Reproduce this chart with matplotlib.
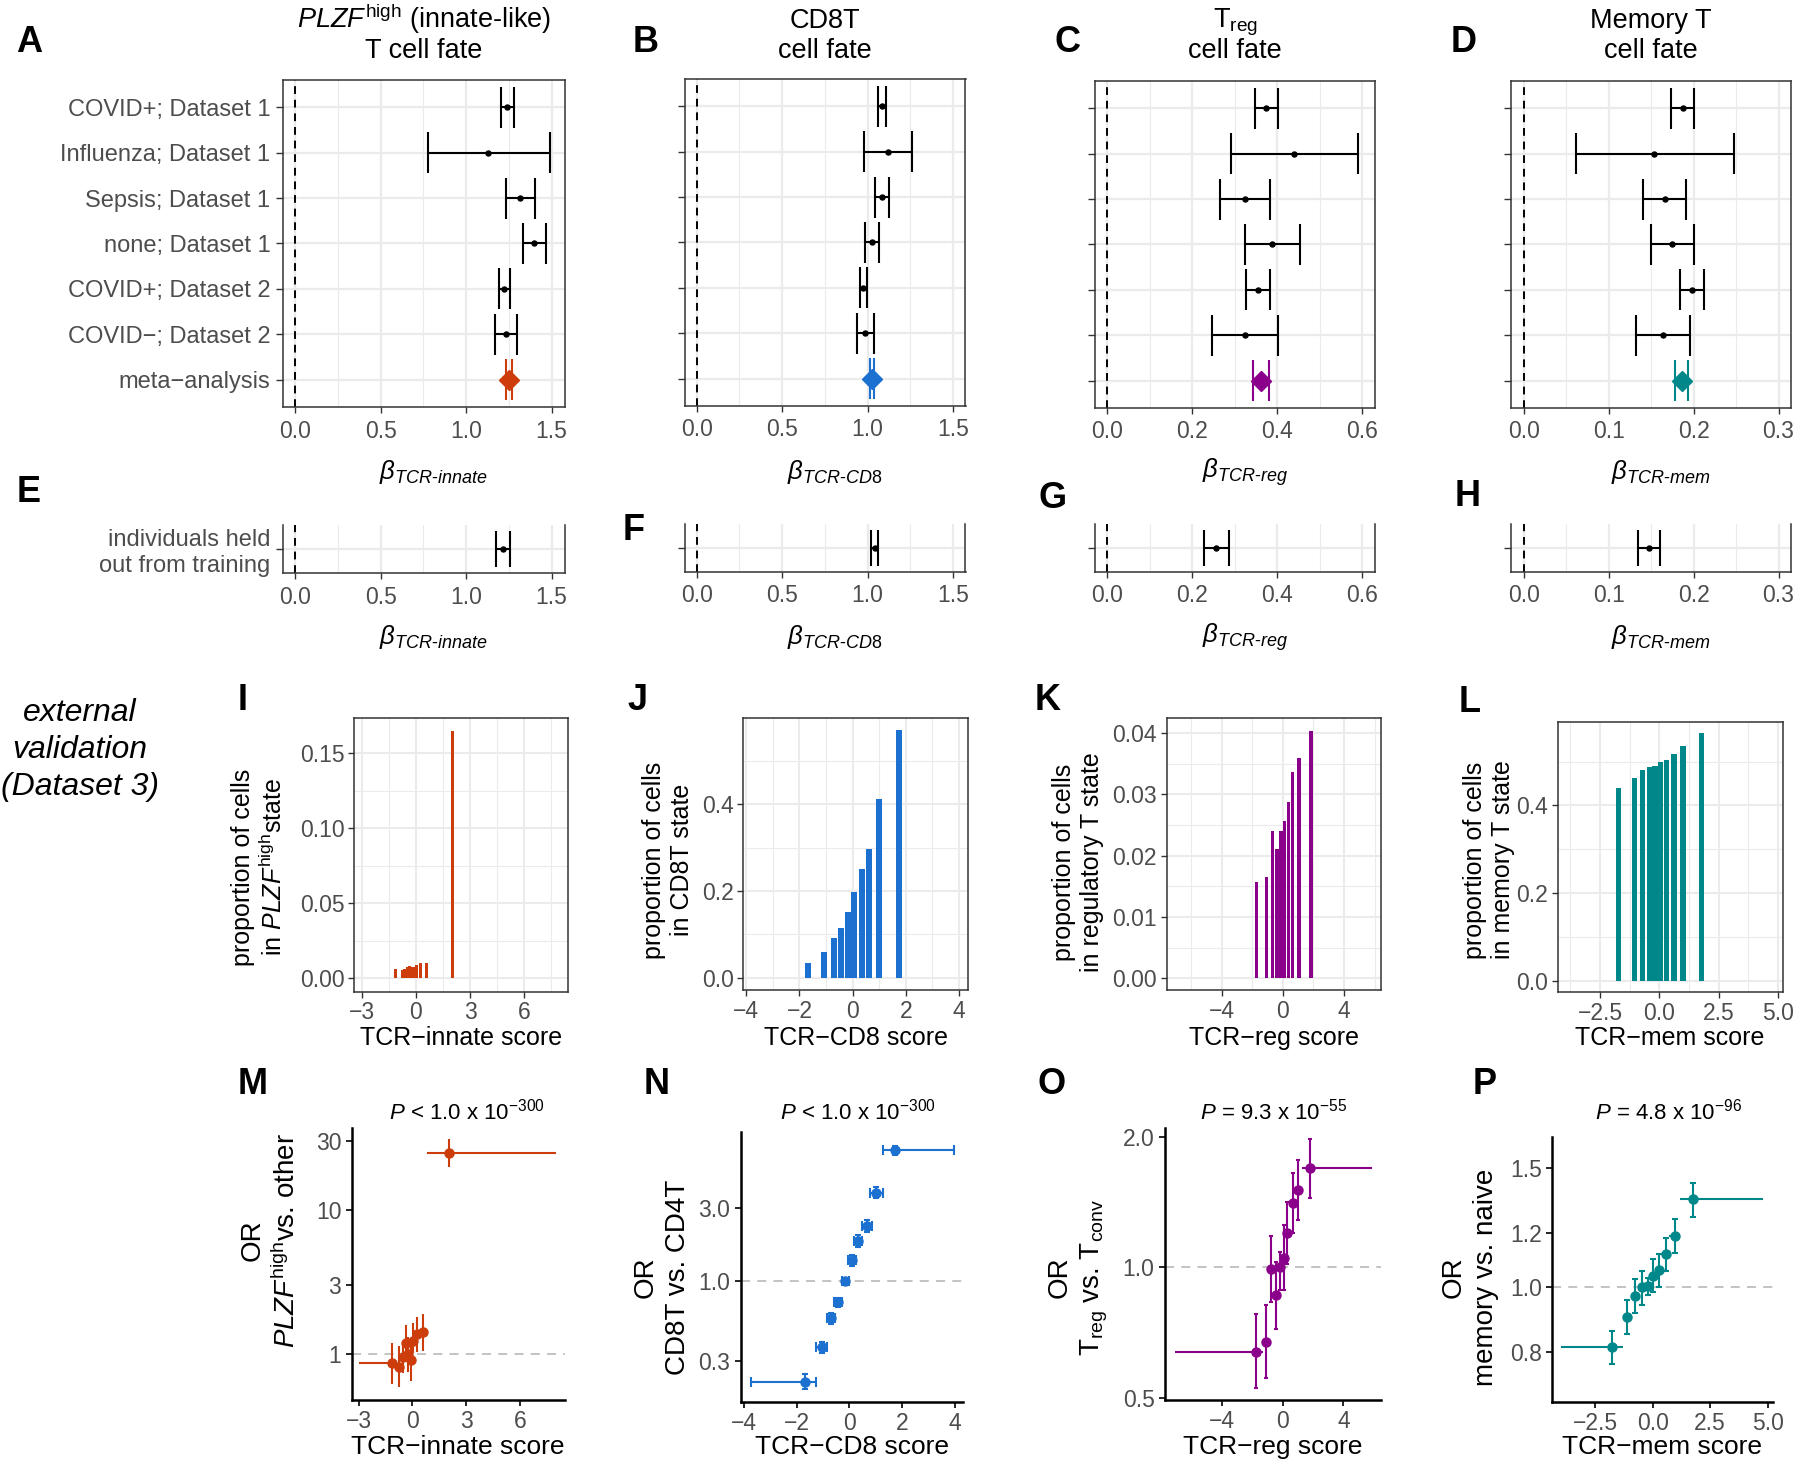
import numpy as np
import matplotlib
matplotlib.use('Agg')
import matplotlib.pyplot as plt
from matplotlib.ticker import FixedLocator, NullLocator, FixedFormatter

plt.rcParams['font.family'] = ['Liberation Sans', 'DejaVu Sans']
plt.rcParams['mathtext.fontset'] = 'custom'
plt.rcParams['mathtext.rm'] = 'Liberation Sans'
plt.rcParams['mathtext.it'] = 'Liberation Sans:italic'
plt.rcParams['mathtext.bf'] = 'Liberation Sans:bold'

# ---------------- data ----------------
study_labels = ['COVID+; Dataset 1', 'Influenza; Dataset 1', 'Sepsis; Dataset 1',
                'none; Dataset 1', 'COVID+; Dataset 2', 'COVID\u2212; Dataset 2',
                'meta\u2212analysis']
heldout_label = ['individuals held\nout from training']

innate_est = [1.242, 1.130, 1.317, 1.400, 1.224, 1.236]
innate_lo = [1.202, 0.775, 1.236, 1.332, 1.193, 1.170]
innate_hi = [1.281, 1.489, 1.406, 1.467, 1.254, 1.298]
innate_meta = [1.249, 1.231, 1.269]

cd8_est = [1.085, 1.119, 1.087, 1.025, 0.975, 0.987]
cd8_lo = [1.063, 0.980, 1.043, 0.984, 0.955, 0.940]
cd8_hi = [1.108, 1.260, 1.128, 1.067, 0.995, 1.036]
cd8_meta = [1.025, 1.013, 1.038]

reg_est = [0.374, 0.440, 0.324, 0.388, 0.355, 0.324]
reg_lo = [0.347, 0.291, 0.266, 0.325, 0.327, 0.246]
reg_hi = [0.402, 0.590, 0.384, 0.453, 0.384, 0.402]
reg_meta = [0.362, 0.344, 0.380]

mem_est = [0.187, 0.154, 0.166, 0.175, 0.198, 0.164]
mem_lo = [0.173, 0.062, 0.141, 0.150, 0.184, 0.132]
mem_hi = [0.200, 0.247, 0.191, 0.201, 0.212, 0.196]
mem_meta = [0.186, 0.178, 0.194]

heldout_innate = [1.217, 1.177, 1.258]
heldout_cd8 = [1.044, 1.018, 1.064]
heldout_reg = [0.257, 0.227, 0.287]
heldout_mem = [0.147, 0.135, 0.160]

innate_bin_x = [-1.13, -0.76, -0.63, -0.50, -0.37, -0.24, -0.13, 0.04, 0.26, 0.59, 2.04]
innate_bin_prop = [0.0063, 0.0058, 0.0065, 0.0073, 0.0085, 0.0078, 0.0073, 0.0088, 0.0100, 0.0104, 0.165]
cd8_bin_x = [-1.69, -1.07, -0.70, -0.44, -0.16, 0.06, 0.34, 0.63, 1.00, 1.74]
cd8_bin_prop = [0.035, 0.060, 0.091, 0.114, 0.151, 0.198, 0.250, 0.297, 0.412, 0.570]
reg_bin_x = [-1.70, -1.05, -0.68, -0.39, -0.13, 0.11, 0.37, 0.65, 1.05, 1.83]
reg_bin_prop = [0.0157, 0.0165, 0.0241, 0.0211, 0.0241, 0.0256, 0.0287, 0.0337, 0.0360, 0.0404]
mem_bin_x = [-1.71, -1.04, -0.72, -0.43, -0.18, 0.06, 0.32, 0.62, 1.00, 1.79]
mem_bin_prop = [0.439, 0.462, 0.482, 0.487, 0.490, 0.499, 0.503, 0.517, 0.535, 0.566]

innate_or_x = [-1.15, -0.74, -0.54, -0.37, -0.24, -0.07, 0.06, 0.28, 0.61, 2.07]
innate_or = [0.862, 0.817, 0.948, 1.197, 1.000, 0.909, 1.230, 1.376, 1.413, 24.7]
innate_or_lo = [0.619, 0.588, 0.735, 0.909, 0.754, 0.653, 1.010, 1.040, 1.050, 19.7]
innate_or_hi = [1.186, 1.137, 1.137, 1.590, 1.320, 1.186, 1.630, 1.810, 1.890, 30.8]
innate_x_lo = [-2.96, -0.87, -0.62, -0.45, -0.31, -0.15, -0.02, 0.18, 0.45, 0.80]
innate_x_hi = [-0.87, -0.62, -0.45, -0.31, -0.15, -0.02, 0.18, 0.45, 0.80, 8.01]

cd8_or_x = [-1.68, -1.05, -0.71, -0.42, -0.15, 0.09, 0.34, 0.66, 1.02, 1.75]
cd8_or = [0.220, 0.369, 0.570, 0.726, 1.000, 1.370, 1.830, 2.290, 3.780, 7.150]
cd8_or_lo = [0.196, 0.340, 0.524, 0.680, 0.960, 1.260, 1.670, 2.100, 3.490, 6.660]
cd8_or_hi = [0.247, 0.398, 0.615, 0.780, 1.040, 1.490, 2.000, 2.500, 4.100, 7.620]
cd8_x_lo = [-3.74, -1.27, -0.86, -0.57, -0.29, -0.04, 0.19, 0.49, 0.79, 1.29]
cd8_x_hi = [-1.27, -0.84, -0.54, -0.27, 0.00, 0.24, 0.49, 0.85, 1.29, 3.99]

reg_or_x = [-1.76, -1.08, -0.75, -0.44, -0.18, 0.09, 0.30, 0.66, 1.03, 1.82]
reg_or = [0.638, 0.673, 0.991, 0.863, 1.000, 1.049, 1.202, 1.406, 1.509, 1.693]
reg_or_lo = [0.525, 0.556, 0.830, 0.719, 0.886, 0.886, 1.018, 1.198, 1.286, 1.443]
reg_or_hi = [0.780, 0.818, 1.183, 1.030, 1.086, 1.252, 1.418, 1.654, 1.770, 1.979]
reg_x_lo = [-7.09, -1.27, -0.88, -0.60, -0.30, -0.05, 0.20, 0.45, 0.85, 1.25]
reg_x_hi = [-1.27, -0.88, -0.60, -0.30, -0.05, 0.20, 0.45, 0.85, 1.25, 5.86]

mem_or_x = [-1.78, -1.10, -0.76, -0.48, -0.22, 0.03, 0.29, 0.58, 0.97, 1.74]
mem_or = [0.815, 0.903, 0.969, 0.998, 1.001, 1.039, 1.059, 1.117, 1.191, 1.348]
mem_or_lo = [0.768, 0.852, 0.915, 0.939, 0.972, 0.981, 0.998, 1.055, 1.123, 1.270]
mem_or_hi = [0.860, 0.955, 1.025, 1.056, 1.032, 1.099, 1.118, 1.180, 1.259, 1.424]
mem_x_lo = [-3.99, -1.30, -0.90, -0.62, -0.35, -0.10, 0.15, 0.42, 0.72, 1.19]
mem_x_hi = [-1.30, -0.90, -0.62, -0.35, -0.10, 0.15, 0.42, 0.72, 1.19, 4.81]

p_texts = [r'$P$ < 1.0 x 10$^{\mathrm{-300}}$', r'$P$ < 1.0 x 10$^{\mathrm{-300}}$',
           r'$P$ = 9.3 x 10$^{\mathrm{-55}}$', r'$P$ = 4.8 x 10$^{\mathrm{-96}}$']

# ---------------- styling ----------------
C_INN = '#CC3D0B'
C_CD8 = '#1B70D0'
C_REG = '#8B008B'
C_MEM = '#00878A'
GRID = '#EBEBEB'
TICKC = '#4D4D4D'
FS_TICK = 16.5
FS_YLAB_A = 17
FS_LAB = 18

W, H = 1800, 1467
fig = plt.figure(figsize=(18, 14.67), dpi=100)
fig.patch.set_facecolor('white')


def px_axes(l, t, r, b):
    return fig.add_axes([l / W, 1 - b / H, (r - l) / W, (b - t) / H])


def ftext(x, y, s, **kw):
    return fig.text(x / W, 1 - y / H, s, **kw)


def bw_style(ax):
    for sp in ax.spines.values():
        sp.set_color('#333333')
        sp.set_linewidth(1.1)
    ax.tick_params(which='major', length=4, width=1.0, color='#333333',
                   labelsize=FS_TICK, labelcolor=TICKC)
    ax.tick_params(which='minor', length=0)
    ax.set_axisbelow(True)


def forest(ax, est, lo, hi, meta, color, xlim, major, minor, labels, n_rows):
    est = np.asarray(est); lo = np.asarray(lo); hi = np.asarray(hi)
    ys = np.arange(1, len(est) + 1)
    ax.set_xlim(*xlim)
    ax.set_ylim(n_rows + 0.6, 0.4)
    ax.xaxis.set_major_locator(FixedLocator(major))
    ax.xaxis.set_minor_locator(FixedLocator(minor))
    ax.yaxis.set_major_locator(FixedLocator(np.arange(1, n_rows + 1)))
    ax.yaxis.set_minor_locator(NullLocator())
    ax.grid(which='major', color=GRID, lw=1.6)
    ax.grid(which='minor', axis='x', color=GRID, lw=0.8)
    bw_style(ax)
    ax.tick_params(axis='x', pad=5)
    ax.tick_params(axis='y', length=5, pad=4)
    if labels is not None:
        ax.set_yticklabels(labels, fontsize=FS_YLAB_A, color=TICKC)
    else:
        ax.set_yticklabels([])
    ax.axvline(0, color='black', ls=(0, (4, 3)), lw=1.4, zorder=2)
    if len(est):
        ax.hlines(ys, lo, hi, color='black', lw=1.5, zorder=3)
        ax.vlines(lo, ys - 0.45, ys + 0.45, color='black', lw=1.5, zorder=3)
        ax.vlines(hi, ys - 0.45, ys + 0.45, color='black', lw=1.5, zorder=3)
        ax.plot(est, ys, 'o', ms=3.6, color='black', zorder=4)
    if meta is not None:
        ym = n_rows
        ax.hlines(ym, meta[1], meta[2], color=color, lw=1.5, zorder=3)
        ax.vlines([meta[1], meta[2]], ym - 0.45, ym + 0.45, color=color, lw=1.5, zorder=3)
        ax.plot(meta[0], ym, 'D', ms=10.5, color=color, zorder=4)


def heldout(ax, vals, xlim, major, minor, labels):
    ys = np.array([1])
    ax.set_xlim(*xlim)
    ax.set_ylim(1.6, 0.4)
    ax.xaxis.set_major_locator(FixedLocator(major))
    ax.xaxis.set_minor_locator(FixedLocator(minor))
    ax.yaxis.set_major_locator(FixedLocator([1]))
    ax.yaxis.set_minor_locator(NullLocator())
    ax.grid(which='major', color=GRID, lw=1.6)
    ax.grid(which='minor', axis='x', color=GRID, lw=0.8)
    bw_style(ax)
    ax.spines['top'].set_visible(False)
    ax.tick_params(axis='x', pad=5)
    ax.tick_params(axis='y', length=5, pad=4)
    if labels is not None:
        ax.set_yticklabels(labels, fontsize=FS_YLAB_A, color=TICKC)
    else:
        ax.set_yticklabels([])
    ax.axvline(0, color='black', ls=(0, (4, 3)), lw=1.4, zorder=2)
    ax.hlines(ys, vals[1], vals[2], color='black', lw=1.5, zorder=3)
    ax.vlines([vals[1], vals[2]], 1 - 0.45, 1 + 0.45, color='black', lw=1.5, zorder=3)
    ax.plot([vals[0]], ys, 'o', ms=3.6, color='black', zorder=4)


def bars(ax, x, h, color, width, xlim, ylim, xmaj, xmin, ymaj, ymin, ylabels):
    ax.bar(x, h, width=width, color=color, zorder=3)
    ax.set_xlim(*xlim)
    ax.set_ylim(*ylim)
    ax.xaxis.set_major_locator(FixedLocator(xmaj))
    ax.xaxis.set_minor_locator(FixedLocator(xmin))
    ax.yaxis.set_major_locator(FixedLocator(ymaj))
    ax.yaxis.set_minor_locator(FixedLocator(ymin))
    ax.set_yticklabels(ylabels)
    ax.set_xticklabels([('\u2212' + f'{v:g}'[1:]) if v < 0 else f'{v:g}' for v in xmaj])
    ax.grid(which='major', color=GRID, lw=1.5)
    ax.grid(which='minor', color=GRID, lw=0.8)
    bw_style(ax)
    ax.tick_params(pad=3)


def or_panel(ax, x, y, ylo, yhi, xlo, xhi, color, xlim, ylim, xticks, xticklabels,
             yticks, yticklabels, ycap, xcap):
    x = np.asarray(x); y = np.asarray(y)
    ax.set_yscale('log')
    ax.axhline(1, color='#BEBEBE', ls=(0, (5, 4)), lw=1.3, zorder=1)
    ax.errorbar(x, y, xerr=[x - np.asarray(xlo), np.asarray(xhi) - x], fmt='none',
                ecolor=color, elinewidth=1.5, capsize=xcap, capthick=1.5, zorder=3)
    ax.errorbar(x, y, yerr=[y - np.asarray(ylo), np.asarray(yhi) - y], fmt='o',
                color=color, ms=6.5, elinewidth=1.5, capsize=ycap, capthick=1.5, zorder=4)
    ax.set_xlim(*xlim)
    ax.set_ylim(*ylim)
    ax.xaxis.set_major_locator(FixedLocator(xticks))
    ax.xaxis.set_major_formatter(FixedFormatter(xticklabels))
    ax.xaxis.set_minor_locator(NullLocator())
    ax.yaxis.set_major_locator(FixedLocator(yticks))
    ax.yaxis.set_major_formatter(FixedFormatter(yticklabels))
    ax.yaxis.set_minor_locator(NullLocator())
    for s in ['top', 'right']:
        ax.spines[s].set_visible(False)
    for s in ['left', 'bottom']:
        ax.spines[s].set_color('black')
        ax.spines[s].set_linewidth(1.8)
    ax.tick_params(which='major', length=4.5, width=1.2, color='black',
                   labelsize=FS_TICK, labelcolor=TICKC, pad=3)


# ---------------- top row: A-D ----------------
ext_A = (283, 80, 564.5, 407)
ext_B = (685, 79, 965.5, 406)
ext_C = (1095, 81, 1375.3, 408)
ext_D = (1511, 81, 1791.3, 408)

axA = px_axes(*ext_A)
forest(axA, innate_est, innate_lo, innate_hi, innate_meta, C_INN, (-0.073, 1.576),
       [0, 0.5, 1.0, 1.5], [0.25, 0.75, 1.25], study_labels, 7)
axA.set_xticklabels(['0.0', '0.5', '1.0', '1.5'])
axB = px_axes(*ext_B)
forest(axB, cd8_est, cd8_lo, cd8_hi, cd8_meta, C_CD8, (-0.069, 1.574),
       [0, 0.5, 1.0, 1.5], [0.25, 0.75, 1.25], None, 7)
axB.set_xticklabels(['0.0', '0.5', '1.0', '1.5'])
axC = px_axes(*ext_C)
forest(axC, reg_est, reg_lo, reg_hi, reg_meta, C_REG, (-0.029, 0.631),
       [0, 0.2, 0.4, 0.6], [0.1, 0.3, 0.5], None, 7)
axC.set_xticklabels(['0.0', '0.2', '0.4', '0.6'])
axD = px_axes(*ext_D)
forest(axD, mem_est, mem_lo, mem_hi, mem_meta, C_MEM, (-0.0148, 0.315),
       [0, 0.1, 0.2, 0.3], [0.05, 0.15, 0.25], None, 7)
axD.set_xticklabels(['0.0', '0.1', '0.2', '0.3'])

# ---------------- E-H ----------------
axE = px_axes(ext_A[0], 525, ext_A[2], 573)
heldout(axE, heldout_innate, (-0.073, 1.576), [0, 0.5, 1.0, 1.5], [0.25, 0.75, 1.25], heldout_label)
axE.set_xticklabels(['0.0', '0.5', '1.0', '1.5'])
axF = px_axes(ext_B[0], 524, ext_B[2], 572)
heldout(axF, heldout_cd8, (-0.069, 1.574), [0, 0.5, 1.0, 1.5], [0.25, 0.75, 1.25], None)
axF.set_xticklabels(['0.0', '0.5', '1.0', '1.5'])
axG = px_axes(ext_C[0], 524, ext_C[2], 572)
heldout(axG, heldout_reg, (-0.029, 0.631), [0, 0.2, 0.4, 0.6], [0.1, 0.3, 0.5], None)
axG.set_xticklabels(['0.0', '0.2', '0.4', '0.6'])
axH = px_axes(ext_D[0], 524, ext_D[2], 572)
heldout(axH, heldout_mem, (-0.0148, 0.315), [0, 0.1, 0.2, 0.3], [0.05, 0.15, 0.25], None)
axH.set_xticklabels(['0.0', '0.1', '0.2', '0.3'])

# titles
title_fs = 19.5
for cx, l1, l2 in [((ext_A[0] + ext_A[2]) / 2, r'$\mathit{PLZF}^{\mathrm{high}}$ (innate-like)', 'T cell fate'),
                   ((ext_B[0] + ext_B[2]) / 2, 'CD8T', 'cell fate'),
                   ((ext_C[0] + ext_C[2]) / 2, r'T$_{\mathrm{reg}}$', 'cell fate'),
                   ((ext_D[0] + ext_D[2]) / 2, 'Memory T', 'cell fate')]:
    ftext(cx, 27.5, l1, ha='center', va='baseline', fontsize=title_fs)
    ftext(cx, 57.5, l2, ha='center', va='baseline', fontsize=title_fs)

beta_labels = [r'$\beta_{\mathit{TCR}\text{-}\mathit{innate}}$', r'$\beta_{\mathit{TCR}\text{-}\mathit{CD8}}$',
               r'$\beta_{\mathit{TCR}\text{-}\mathit{reg}}$', r'$\beta_{\mathit{TCR}\text{-}\mathit{mem}}$']
for ext, bl in zip([ext_A, ext_B, ext_C, ext_D], beta_labels):
    cx = (ext[0] + ext[2]) / 2 + 10
    ftext(cx, 472, bl, ha='center', va='center', fontsize=18.5)
    ftext(cx, 637, bl, ha='center', va='center', fontsize=18.5)

# ---------------- I-L ----------------
axI = px_axes(354, 718.3, 568.3, 991.7)
bars(axI, innate_bin_x, innate_bin_prop, C_INN, 0.15, (-3.44, 8.46), (-0.0089, 0.1733),
     [-3, 0, 3, 6], [-1.5, 1.5, 4.5, 7.5], [0, 0.05, 0.10, 0.15], [0.025, 0.075, 0.125],
     ['0.00', '0.05', '0.10', '0.15'])
axJ = px_axes(743.3, 718.3, 968.3, 990)
bars(axJ, cd8_bin_x, cd8_bin_prop, C_CD8, 0.22, (-4.11, 4.35), (-0.028, 0.598),
     [-4, -2, 0, 2, 4], [-3, -1, 1, 3], [0, 0.2, 0.4], [0.1, 0.3, 0.5],
     ['0.0', '0.2', '0.4'])
axK = px_axes(1166.7, 718.3, 1380.7, 990)
bars(axK, reg_bin_x, reg_bin_prop, C_REG, 0.23, (-7.58, 6.4), (-0.0019, 0.0424),
     [-4, 0, 4], [-6, -2, 2, 6], [0, 0.01, 0.02, 0.03, 0.04], [0.005, 0.015, 0.025, 0.035],
     ['0.00', '0.01', '0.02', '0.03', '0.04'])
axL = px_axes(1557.7, 721.7, 1782.7, 992.3)
bars(axL, mem_bin_x, mem_bin_prop, C_MEM, 0.22, (-4.29, 5.21), (-0.026, 0.591),
     [-2.5, 0, 2.5, 5], [-3.75, -1.25, 1.25, 3.75], [0, 0.2, 0.4], [0.1, 0.3, 0.5],
     ['0.0', '0.2', '0.4'])
axL.set_xticklabels(['\u22122.5', '0.0', '2.5', '5.0'])

for cx, s in [(461, 'TCR\u2212innate score'), (856, 'TCR\u2212CD8 score'),
              (1273.7, 'TCR\u2212reg score'), (1670, 'TCR\u2212mem score')]:
    ftext(cx, 1038, s, ha='center', va='center', fontsize=FS_LAB)

for cx, cy, s in [(259, 867, 'proportion of cells\nin $\\mathit{PLZF}^{\\mathrm{high}}$state'),
                  (668, 860, 'proportion of cells\nin CD8T state'),
                  (1078, 862, 'proportion of cells\nin regulatory T state'),
                  (1489, 860, 'proportion of cells\nin memory T state')]:
    ftext(cx, cy, s, ha='center', va='center', rotation=90, fontsize=FS_LAB,
          multialignment='center', linespacing=1.2)

# ---------------- M-P ----------------
axM = px_axes(351.7, 1128.3, 565, 1400)
or_panel(axM, innate_or_x, innate_or, innate_or_lo, innate_or_hi, innate_x_lo, innate_x_hi,
         C_INN, (-3.38, 8.52), (0.48, 36.7), [-3, 0, 3, 6], ['\u22123', '0', '3', '6'],
         [1, 3, 10, 30], ['1', '3', '10', '30'], 0, 0)
axN = px_axes(740.7, 1131.7, 963.3, 1401.7)
or_panel(axN, cd8_or_x, cd8_or, cd8_or_lo, cd8_or_hi, cd8_x_lo, cd8_x_hi,
         C_CD8, (-4.13, 4.33), (0.163, 9.46), [-4, -2, 0, 2, 4],
         ['\u22124', '\u22122', '0', '2', '4'], [0.3, 1.0, 3.0], ['0.3', '1.0', '3.0'], 2.5, 3.5)
axO = px_axes(1165, 1128.3, 1380.7, 1400)
or_panel(axO, reg_or_x, reg_or, reg_or_lo, reg_or_hi, reg_x_lo, reg_x_hi,
         C_REG, (-7.74, 6.45), (0.4935, 2.096), [-4, 0, 4], ['\u22124', '0', '4'],
         [0.5, 1.0, 2.0], ['0.5', '1.0', '2.0'], 1.5, 0)
axP = px_axes(1552.3, 1136.7, 1772.7, 1401.7)
or_panel(axP, mem_or_x, mem_or, mem_or_lo, mem_or_hi, mem_x_lo, mem_x_hi,
         C_MEM, (-4.37, 5.22), (0.675, 1.670), [-2.5, 0, 2.5, 5],
         ['\u22122.5', '0.0', '2.5', '5.0'], [0.8, 1.0, 1.2, 1.5], ['0.8', '1.0', '1.2', '1.5'], 2.5, 0)

for cx, s in [(458, 'TCR\u2212innate score'), (852, 'TCR\u2212CD8 score'),
              (1273, 'TCR\u2212reg score'), (1662.5, 'TCR\u2212mem score')]:
    ftext(cx, 1447, s, ha='center', va='center', fontsize=19)

for cx, s in zip([466.7, 858, 1273.3, 1668.3], p_texts):
    ftext(cx, 1111.7, s, ha='center', va='center', fontsize=16)

for cx, cy, s in [(270, 1240, 'OR\n$\\mathit{PLZF}^{\\mathrm{high}}$vs. other'),
                  (662, 1277, 'OR\nCD8T vs. CD4T'),
                  (1078, 1277, 'OR\nT$_{\\mathrm{reg}}$ vs. T$_{\\mathrm{conv}}$'),
                  (1470, 1277, 'OR\nmemory vs. naive')]:
    ftext(cx, cy, s, ha='center', va='center', rotation=90, fontsize=20,
          multialignment='center', linespacing=1.3)

# ---------------- panel letters and side text ----------------
letters = [('A', 29, 42), ('B', 646, 42), ('C', 1067, 42), ('D', 1464, 42),
           ('E', 29, 493), ('F', 634, 530), ('G', 1053, 499), ('H', 1468, 496),
           ('I', 243, 700), ('J', 637, 700), ('K', 1048, 700), ('L', 1470, 702),
           ('M', 253, 1085), ('N', 657, 1085), ('O', 1052, 1085), ('P', 1485, 1085)]
for s, x, y in letters:
    ftext(x, y, s, ha='center', va='center', fontsize=26, fontweight='bold')

ftext(80, 750, 'external\nvalidation\n(Dataset 3)', ha='center', va='center',
      fontsize=23, style='italic', linespacing=1.3)

fig.savefig('out.png', dpi=100, facecolor='white')
